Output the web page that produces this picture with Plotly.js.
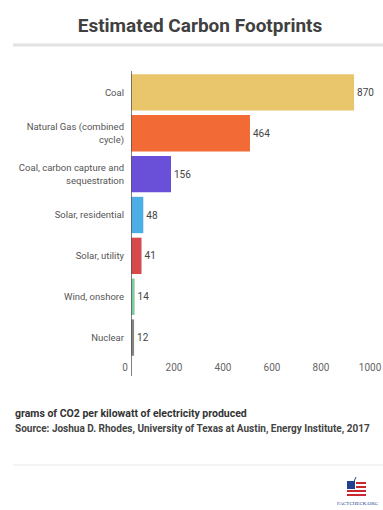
<!DOCTYPE html>
<html>
<head>
<meta charset="utf-8">
<script src="https://cdn.plot.ly/plotly-3.0.1.min.js"></script>
<style>
  html, body { margin: 0; padding: 0; background: #fff; }
  #chart { width: 383px; height: 510px; }
</style>
</head>
<body>
<div id="chart"></div>
<script>
// ---- data ----
const categories = [
  "Coal",
  "Natural Gas (combined<br>cycle)",
  "Coal, carbon capture and<br>sequestration",
  "Solar, residential",
  "Solar, utility",
  "Wind, onshore",
  "Nuclear"
];
const values = [870, 464, 156, 48, 41, 14, 12];
const barColors = ["#E9C66B", "#F26A35", "#6A4FD8", "#4DAEE6", "#D64A4C", "#7DCBA0", "#858585"];
const xTickValues = [0, 200, 400, 600, 800, 1000];
const xTickLabels = ["0", "200", "400", "600", "800", "1000"];
const titleText = "Estimated Carbon Footprints";
const unitNote = "grams of CO2 per kilowatt of electricity produced";
const sourceNote = "Source: Joshua D. Rhodes, University of Texas at Austin, Energy Institute, 2017";

// ---- layout helpers (pixel -> paper) ----
const W = 383, H = 510;
const M = { l: 131, r: 2, t: 72, b: 152 };
const PW = W - M.l - M.r, PH = H - M.t - M.b;
const px = x => (x - M.l) / PW;
const py = y => (H - M.b - y) / PH;

const font = "Roboto, 'Open Sans', sans-serif";

const trace = {
  type: "bar",
  orientation: "h",
  y: categories,
  x: values,
  marker: { color: barColors, line: { width: 0 } },
  text: values.map(String),
  textposition: "outside",
  textfont: { family: font, size: 10, color: "#444" },
  cliponaxis: false,
  hoverinfo: "skip"
};
// empty trace that only registers the tick-label axis
const axisHolder = {
  type: "scatter", mode: "none", x: [], y: [],
  xaxis: "x2", yaxis: "y", hoverinfo: "skip", showlegend: false
};

const layout = {
  width: W, height: H,
  margin: M,
  paper_bgcolor: "#fff",
  plot_bgcolor: "rgba(0,0,0,0)",
  showlegend: false,
  bargap: 0.11,
  font: { family: font, color: "#555" },
  title: {
    text: "<b>" + titleText + "</b>",
    font: { family: font, size: 19, color: "#404040" },
    x: 200 / W, xref: "container", xanchor: "center",
    y: 1 - 25 / H, yref: "container", yanchor: "middle"
  },
  xaxis: {
    range: [0, 975],
    showticklabels: false,
    showgrid: false,
    zeroline: false,
    showline: false,
    ticks: "",
    fixedrange: true
  },
  // tick-label axis (the source picture's tick labels sit on a slightly narrower scale)
  xaxis2: {
    range: [0, 1000],
    domain: [0, 0.98],
    anchor: "y",
    side: "bottom",
    tickvals: xTickValues,
    ticktext: xTickLabels,
    showgrid: false,
    zeroline: false,
    showline: false,
    ticks: "",
    ticklabelshift: -6,
    ticklabelstandoff: 2,
    tickfont: { family: font, size: 10, color: "#666" },
    fixedrange: true
  },
  yaxis: {
    type: "category",
    autorange: "reversed",
    showgrid: false,
    zeroline: false,
    showline: false,
    ticks: "",
    ticklabelstandoff: 6,
    tickfont: { family: font, size: 9.5, color: "#555" },
    fixedrange: true
  },
  shapes: [
    // y axis line (extends below the bars)
    { type: "line", xref: "x", yref: "paper", x0: 0, x1: 0, y0: py(376), y1: py(71),
      line: { color: "#555", width: 1.5 } },
    // title separator
    { type: "line", xref: "paper", yref: "paper", x0: px(13), x1: px(383), y0: py(45), y1: py(45),
      line: { color: "#e2e2e2", width: 3 } },
    // footer separator
    { type: "line", xref: "paper", yref: "paper", x0: px(13), x1: px(383), y0: py(465), y1: py(465),
      line: { color: "#e8e8e8", width: 1 } },
    // logo: blue canton
    { type: "rect", xref: "paper", yref: "paper", x0: px(347), x1: px(355), y0: py(489), y1: py(481),
      fillcolor: "#23408e", line: { width: 0 } },
    // logo: red stripes
    { type: "rect", xref: "paper", yref: "paper", x0: px(356), x1: px(366), y0: py(484), y1: py(482),
      fillcolor: "#c8282e", line: { width: 0 } },
    { type: "rect", xref: "paper", yref: "paper", x0: px(356), x1: px(366), y0: py(488), y1: py(486),
      fillcolor: "#c8282e", line: { width: 0 } },
    { type: "rect", xref: "paper", yref: "paper", x0: px(347), x1: px(366), y0: py(492), y1: py(490),
      fillcolor: "#c8282e", line: { width: 0 } },
    { type: "rect", xref: "paper", yref: "paper", x0: px(347), x1: px(366), y0: py(496), y1: py(494),
      fillcolor: "#c8282e", line: { width: 0 } },
    // logo: check mark
    { type: "path", xref: "paper", yref: "paper",
      path: `M ${px(349)},${py(485)} L ${px(351)},${py(488)} L ${px(356)},${py(477)}`,
      line: { color: "#23408e", width: 1 } }
  ],
  annotations: [
    { xref: "paper", yref: "paper", x: px(13), y: py(413), xanchor: "left", yanchor: "middle",
      text: "<b>" + unitNote + "</b>", showarrow: false,
      font: { family: font, size: 10.5, color: "#333" } },
    { xref: "paper", yref: "paper", x: px(13), y: py(429), xanchor: "left", yanchor: "middle",
      text: "<b>" + sourceNote + "</b>", showarrow: false,
      font: { family: font, size: 10, color: "#444" } },
    { xref: "paper", yref: "paper", x: px(358), y: py(503), xanchor: "center", yanchor: "middle",
      text: "FACTCHECK.ORG", showarrow: false,
      font: { family: "'Liberation Serif', serif", size: 5, color: "#23408e" } }
  ]
};

Plotly.newPlot("chart", [trace, axisHolder], layout, { displayModeBar: false, staticPlot: true });
</script>
</body>
</html>
